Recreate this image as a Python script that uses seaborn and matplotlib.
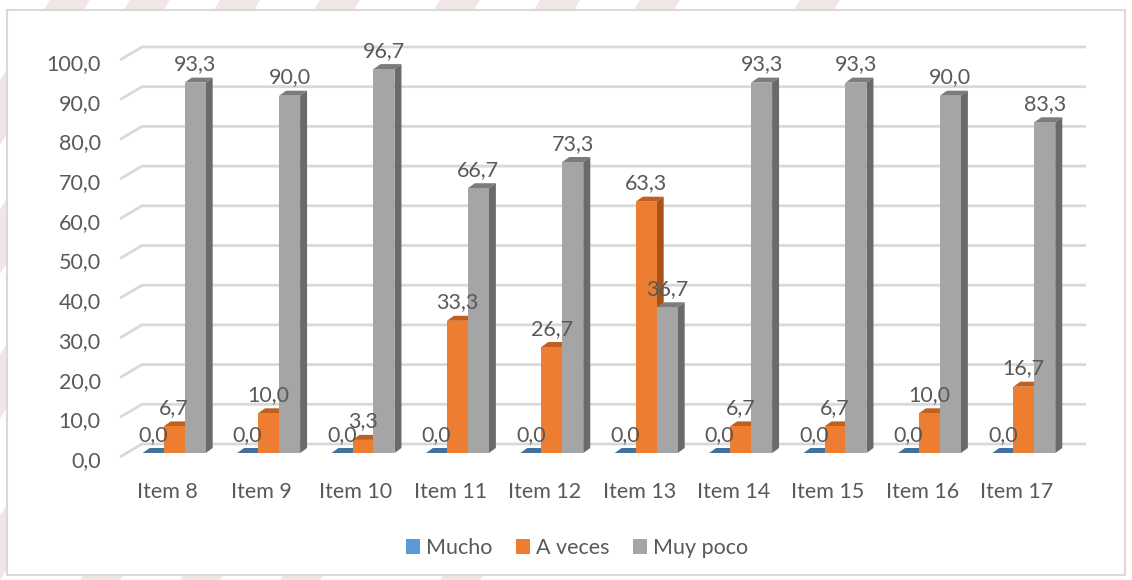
import numpy as np
import pandas as pd
import matplotlib
matplotlib.use("Agg")
import matplotlib.pyplot as plt
import seaborn as sns
from matplotlib.patches import Polygon, Patch, Rectangle
from matplotlib.transforms import ScaledTranslation

items = ["Item 8", "Item 9", "Item 10", "Item 11", "Item 12",
         "Item 13", "Item 14", "Item 15", "Item 16", "Item 17"]
mucho = [0.0, 0.0, 0.0, 0.0, 0.0, 0.0, 0.0, 0.0, 0.0, 0.0]
a_veces = [6.7, 10.0, 3.3, 33.3, 26.7, 63.3, 6.7, 6.7, 10.0, 16.7]
muy_poco = [93.3, 90.0, 96.7, 66.7, 73.3, 36.7, 93.3, 93.3, 90.0, 83.3]
series = ["Mucho", "A veces", "Muy poco"]
y_ticks = [0, 10, 20, 30, 40, 50, 60, 70, 80, 90, 100]

# front / top / side colours per series
colors = {"Mucho": ("#5b9bd5", "#41719c", "#2f5f8a"),
          "A veces": ("#ed7d31", "#c0601f", "#a5521b"),
          "Muy poco": ("#a5a5a5", "#7c7c7c", "#6a6a6a")}
text_col = "#595959"
grid_col = "#d9d9d9"
fsize = 15.5

df = pd.DataFrame({
    "item": items * 3,
    "serie": ["Mucho"] * 10 + ["A veces"] * 10 + ["Muy poco"] * 10,
    "valor": mucho + a_veces + muy_poco,
})

sns.set_style("white")
plt.rcParams["font.family"] = ["Lato", "DejaVu Sans"]

fig = plt.figure(figsize=(11.32, 5.8), dpi=100)
W, H = 1132, 580

# faint watermark stripes behind the chart box
for x0 in [30, 110, 200, 300, 420, 520, 620, 780]:
    fig.patches.append(Polygon([[(x0 + 20) / W, 1], [(x0 + 60) / W, 1],
                                [(x0 - 300) / W, 0], [(x0 - 340) / W, 0]],
                               closed=True, transform=fig.transFigure,
                               facecolor="#f1e6e6", edgecolor="none", zorder=-2))
fig.patches.append(Rectangle((7 / W, 5 / H), 1118 / W, 565 / H,
                             transform=fig.transFigure, facecolor="white",
                             edgecolor=grid_col, linewidth=1.5, zorder=-1))

ax = fig.add_axes([127 / W, (H - 453) / H, 944 / W, 397 / H])
ax.set_zorder(1)
ax.patch.set_alpha(0)

sns.barplot(data=df, x="item", y="valor", hue="serie", hue_order=series,
            palette={s: colors[s][0] for s in series}, width=0.667, gap=0,
            saturation=1, legend=False, ax=ax, zorder=3, edgecolor="none")

ax.set_xlim(-0.5, 9.5)
ax.set_ylim(0, 100)
sns.despine(ax=ax, left=True, bottom=True)
ax.set_xlabel("")
ax.set_ylabel("")

# 3D offsets in data units
dx_bar, dy_bar = 0.074, 1.26      # bar depth
bx, by = 0.159, 2.27              # back wall
fx, fy = -0.074, -1.0             # front edge

for v in y_ticks:
    ax.plot([-0.5 + fx, -0.5 + bx, 9.5 + bx], [v + fy, v + by, v + by],
            color=grid_col, lw=2, clip_on=False, zorder=1, solid_capstyle="butt")

ax.set_yticks(y_ticks)
ax.set_yticklabels([f"{v:.1f}".replace(".", ",") for v in y_ticks])
ax.tick_params(axis="y", length=0, pad=19, labelsize=fsize, labelcolor=text_col)
ax.tick_params(axis="x", length=0, pad=21, labelsize=fsize, labelcolor=text_col)
for lab in ax.get_yticklabels():
    lab.set_transform(lab.get_transform() + ScaledTranslation(0, -0.06, fig.dpi_scale_trans))
for lab in ax.get_xticklabels():
    lab.set_transform(lab.get_transform() + ScaledTranslation(-0.07, 0, fig.dpi_scale_trans))

bars = sorted(ax.patches, key=lambda p: p.get_x())

for i, p in enumerate(bars):
    x0 = p.get_x()
    x1 = x0 + p.get_width()
    h = p.get_height()
    s = series[i % 3]
    front, top, side = colors[s]
    z = 3 + i * 0.01
    p.set_zorder(z + 0.005)
    ax.add_patch(Polygon([[x0, h], [x1, h], [x1 + dx_bar, h + dy_bar], [x0 + dx_bar, h + dy_bar]],
                         closed=True, facecolor=top, edgecolor="none", zorder=z, clip_on=False))
    ax.add_patch(Polygon([[x1, 0], [x1, h], [x1 + dx_bar, h + dy_bar], [x1 + dx_bar, dy_bar]],
                         closed=True, facecolor=side, edgecolor="none", zorder=z, clip_on=False))
    ax.annotate(f"{h:.1f}".replace(".", ","), (x0 + p.get_width() / 2, h),
                xytext=(0, 6), textcoords="offset points", ha="center", va="bottom",
                fontsize=fsize, color=text_col, zorder=10, annotation_clip=False)

handles = [Patch(facecolor=colors[s][0], edgecolor="none") for s in series]
fig.legend(handles, series, loc="center", bbox_to_anchor=(577 / W, (H - 548) / H),
           ncol=3, frameon=False, fontsize=fsize, labelcolor=text_col,
           handlelength=0.65, handleheight=0.65, handletextpad=0.28, columnspacing=1.1)

fig.savefig("out.png", dpi=100)
